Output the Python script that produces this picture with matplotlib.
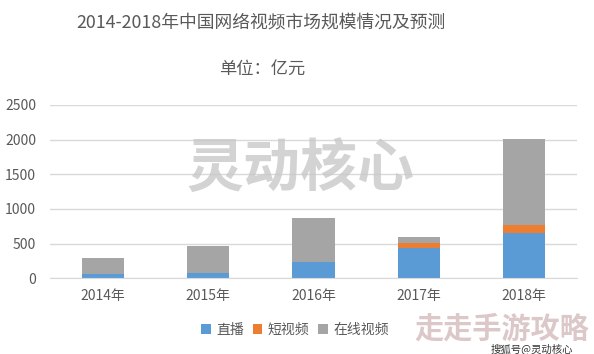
import numpy as np
import matplotlib; matplotlib.use('Agg')
import matplotlib.pyplot as plt

plt.rcParams['font.family'] = ['Noto Sans CJK SC', 'DejaVu Sans']

years = ['2014年', '2015年', '2016年', '2017年', '2018年']
live = [58, 80, 228, 440, 648]          # 直播
short = [2, 3, 6, 65, 120]              # 短视频
online = [230, 387, 632, 85, 1243]      # 在线视频

series = [('直播', live, '#5b9bd5'), ('短视频', short, '#ed7d31'), ('在线视频', online, '#a5a5a5')]

fig = plt.figure(figsize=(5.94, 3.54), dpi=100)
ax = fig.add_axes([50/594, 1-278.3/354, 527/594, 173.3/354])

x = np.arange(len(years))
bottom = np.zeros(len(years))
for name, vals, col in series:
    ax.bar(x, vals, 0.4, bottom=bottom, color=col, label=name, zorder=2)
    bottom += np.array(vals)

ax.set_xlim(-0.5, len(years)-0.5)
ax.set_ylim(0, 2500)
ax.set_yticks(range(0, 2501, 500))
ax.set_xticks(x, years)
ax.grid(axis='y', color='#d9d9d9', lw=1, zorder=0)
for s in ['top', 'right', 'left']:
    ax.spines[s].set_visible(False)
ax.spines['bottom'].set_color('#d9d9d9')
ax.tick_params(length=0, colors='#595959', labelsize=10)
ax.tick_params(axis='x', pad=8)
ax.tick_params(axis='y', pad=10)

fig.text(261/594, 1-23/354, '2014-2018年中国网络视频市场规模情况及预测', ha='center', va='center',
         fontsize=12.8, color='#595959')
fig.text(262/594, 1-70/354, '单位：亿元', ha='center', va='center', fontsize=12.4, color='#595959')

ax.legend(loc='center', bbox_to_anchor=(295/594, 1-330/354), bbox_transform=fig.transFigure,
          ncol=3, frameon=False, fontsize=10, handlelength=0.7, handleheight=0.7,
          handletextpad=0.4, columnspacing=0.6, labelcolor='#595959')

# watermarks
fig.text(300/594, 1-170/354, '灵动核心', ha='center', va='center', fontsize=41,
         fontweight='bold', color='#c8c8c8', alpha=0.8)
fig.text(502/594, 1-329/354, '走走手游攻略', ha='center', va='center', fontsize=21,
         fontweight='bold', color='#dcc8c8')
fig.text(532/594, 1-349/354, '搜狐号@灵动核心', ha='center', va='center', fontsize=7.5,
         color='#333333')

fig.savefig('out.png', dpi=100, facecolor='white')
